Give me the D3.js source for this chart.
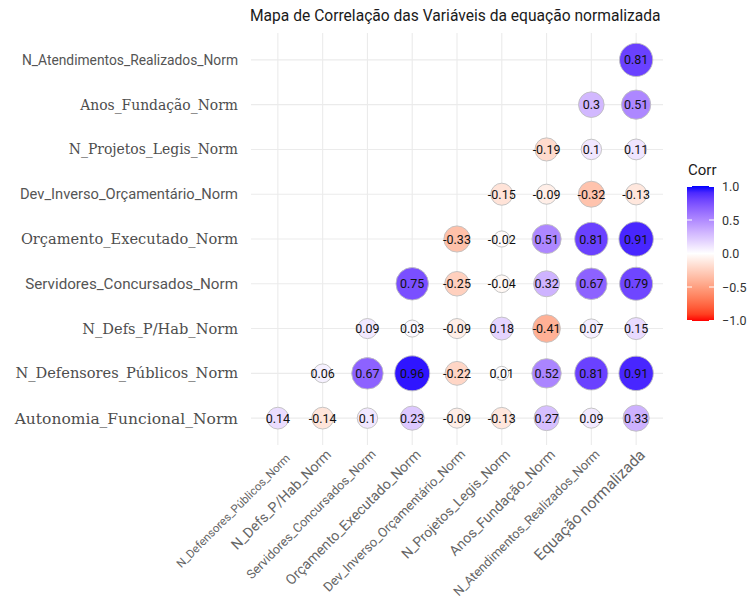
<!DOCTYPE html>
<html>
<head>
<meta charset="utf-8">
<script src="https://cdn.jsdelivr.net/npm/d3@7"></script>
<style>
  body { margin: 0; background: #fff; }
  svg { display: block; }
</style>
</head>
<body>
<svg id="chart" width="748" height="598"></svg>
<script>
// ---------- data ----------
const title = "Mapa de Correlação das Variáveis da equação normalizada";
const rowLabels = [
  "N_Atendimentos_Realizados_Norm",
  "Anos_Fundação_Norm",
  "N_Projetos_Legis_Norm",
  "Dev_Inverso_Orçamentário_Norm",
  "Orçamento_Executado_Norm",
  "Servidores_Concursados_Norm",
  "N_Defs_P/Hab_Norm",
  "N_Defensores_Públicos_Norm",
  "Autonomia_Funcional_Norm"
];
const colLabels = [
  "N_Defensores_Públicos_Norm",
  "N_Defs_P/Hab_Norm",
  "Servidores_Concursados_Norm",
  "Orçamento_Executado_Norm",
  "Dev_Inverso_Orçamentário_Norm",
  "N_Projetos_Legis_Norm",
  "Anos_Fundação_Norm",
  "N_Atendimentos_Realizados_Norm",
  "Equação normalizada"
];
// values per row (row label), starting at the first column it has a value in
const rowAtendimentos = [0.81];
const rowAnos = [0.3, 0.51];
const rowProjetos = [-0.19, 0.1, 0.11];
const rowDevInverso = [-0.15, -0.09, -0.32, -0.13];
const rowOrcamento = [-0.33, -0.02, 0.51, 0.81, 0.91];
const rowServidores = [0.75, -0.25, -0.04, 0.32, 0.67, 0.79];
const rowDefsHab = [0.09, 0.03, -0.09, 0.18, -0.41, 0.07, 0.15];
const rowDefensores = [0.06, 0.67, 0.96, -0.22, 0.01, 0.52, 0.81, 0.91];
const rowAutonomia = [0.14, -0.14, 0.1, 0.23, -0.09, -0.13, 0.27, 0.09, 0.33];
const legendTicks = [1.0, 0.5, 0.0, -0.5, -1.0];
const legendTitle = "Corr";

const rowValues = [rowAtendimentos, rowAnos, rowProjetos, rowDevInverso, rowOrcamento,
                   rowServidores, rowDefsHab, rowDefensores, rowAutonomia];

// build cells
const cells = [];
rowValues.forEach((vals, ri) => {
  const start = colLabels.length - vals.length;
  vals.forEach((v, k) => {
    cells.push({ row: rowLabels[ri], col: colLabels[start + k], value: v });
  });
});

// ---------- styling helpers (text rendering in the reference mixes fonts) ----------
const condensedRows = new Set([
  "N_Atendimentos_Realizados_Norm", "Dev_Inverso_Orçamentário_Norm", "Servidores_Concursados_Norm"
]);
function rowFont(d) { return condensedRows.has(d) ? "Roboto, sans-serif" : "'DejaVu Serif', serif"; }
function rowSize(d) {
  if (d === "N_Atendimentos_Realizados_Norm") return 13.8;
  if (d === "Dev_Inverso_Orçamentário_Norm") return 14.7;
  if (d === "Servidores_Concursados_Norm") return 15.2;
  if (d === "Autonomia_Funcional_Norm") return 15.5;
  if (d === "Anos_Fundação_Norm" || d === "N_Projetos_Legis_Norm") return 13.9;
  return 14.6;
}
function colSize(d) {
  if (d === "N_Defensores_Públicos_Norm") return 11.5;
  if (d === "Equação normalizada") return 15.5;
  if (d === "Servidores_Concursados_Norm") return 12.6;
  if (d === "N_Atendimentos_Realizados_Norm") return 12.8;
  if (d === "Dev_Inverso_Orçamentário_Norm") return 13.1;
  if (d === "N_Projetos_Legis_Norm") return 13.8;
  return 14.2;
}

// ---------- layout ----------
const svg = d3.select("#chart");
const panel = { left: 251, right: 663, top: 33, bottom: 445 };

const x = d3.scalePoint().domain(colLabels).range([panel.left, panel.right]).padding(0.6);
const y = d3.scalePoint().domain(rowLabels).range([panel.top, panel.bottom]).padding(0.6);

const color = d3.scaleLinear().domain([-1, 0, 1]).range(["red", "white", "blue"]).interpolate(d3.interpolateLab);

const absVals = cells.map(d => Math.abs(d.value));
const aMin = d3.min(absVals), aMax = d3.max(absVals);
const sizeScale = d3.scaleLinear().domain([0, 1]).range([4, 10]);
const diam = v => sizeScale(Math.sqrt((Math.abs(v) - aMin) / (aMax - aMin))) * 3.5;

// grid lines
const grid = svg.append("g");
grid.selectAll("line.h").data(rowLabels).join("line")
  .attr("x1", panel.left).attr("x2", panel.right)
  .attr("y1", d => y(d)).attr("y2", d => y(d))
  .attr("stroke", "#EBEBEB").attr("stroke-width", 1.1);
grid.selectAll("line.v").data(colLabels).join("line")
  .attr("x1", d => x(d)).attr("x2", d => x(d))
  .attr("y1", panel.top).attr("y2", panel.bottom)
  .attr("stroke", "#EBEBEB").attr("stroke-width", 1.1);

// circles
svg.append("g").selectAll("circle").data(cells).join("circle")
  .attr("cx", d => x(d.col)).attr("cy", d => y(d.row))
  .attr("r", d => diam(d.value) / 2)
  .attr("fill", d => color(d.value))
  .attr("stroke", "#BEBEBE").attr("stroke-width", 0.9);

// cell labels
svg.append("g").selectAll("text").data(cells).join("text")
  .attr("x", d => x(d.col)).attr("y", d => y(d.row))
  .attr("dy", "0.36em")
  .attr("text-anchor", "middle")
  .attr("font-family", "Roboto, sans-serif")
  .attr("font-size", 12.5)
  .attr("fill", "#111")
  .text(d => String(d.value));

// y axis labels
svg.append("g").selectAll("text").data(rowLabels).join("text")
  .attr("x", 238).attr("y", d => y(d))
  .attr("dy", "0.35em")
  .attr("text-anchor", "end")
  .attr("font-family", d => rowFont(d))
  .attr("font-size", d => rowSize(d))
  .attr("fill", d => condensedRows.has(d) ? "#555" : "#4D4D4D")
  .text(d => d);

// x axis labels
svg.append("g").selectAll("text").data(colLabels).join("text")
  .attr("transform", d => {
    const k = colSize(d) < 12 ? 3 : 0;
    return `translate(${x(d) + 5 + k},${451 + k}) rotate(-45)`;
  })
  .attr("text-anchor", "end")
  .attr("dy", d => colSize(d) < 12 ? "0.6em" : "0.45em")
  .attr("font-family", "Roboto, sans-serif")
  .attr("font-size", d => colSize(d))
  .attr("fill", "#666")
  .text(d => d);

// title
svg.append("text")
  .attr("x", panel.left - 1).attr("y", 21)
  .attr("font-family", "Roboto, sans-serif")
  .attr("font-size", 15.6)
  .attr("fill", "#1a1a1a")
  .text(title);

// legend
const legX = 687, legW = 27, legTop = 186, legBot = 321;
const ly = d3.scaleLinear().domain([1, -1]).range([legTop + 0.5, legBot - 0.5]);
const defs = svg.append("defs");
const grad = defs.append("linearGradient").attr("id", "lg")
  .attr("x1", 0).attr("y1", 0).attr("x2", 0).attr("y2", 1);
d3.range(0, 1.0001, 0.05).forEach(t => {
  grad.append("stop").attr("offset", t).attr("stop-color", color(1 - 2 * t));
});
svg.append("rect").attr("x", legX).attr("y", legTop).attr("width", legW).attr("height", legBot - legTop)
  .attr("fill", "url(#lg)");
const tickG = svg.append("g");
legendTicks.forEach(t => {
  tickG.append("line").attr("x1", legX).attr("x2", legX + 5).attr("y1", ly(t)).attr("y2", ly(t))
    .attr("stroke", "#fff").attr("stroke-width", 1);
  tickG.append("line").attr("x1", legX + legW - 5).attr("x2", legX + legW).attr("y1", ly(t)).attr("y2", ly(t))
    .attr("stroke", "#fff").attr("stroke-width", 1);
  tickG.append("text").attr("x", legX + legW + 8).attr("y", ly(t)).attr("dy", "0.36em")
    .attr("font-family", "Roboto, sans-serif").attr("font-size", 12.5).attr("fill", "#333")
    .text(d3.format(".1f")(t));
});
svg.append("text").attr("x", legX + 1).attr("y", 175)
  .attr("font-family", "Roboto, sans-serif").attr("font-size", 15).attr("fill", "#1a1a1a")
  .text(legendTitle);
</script>
</body>
</html>
